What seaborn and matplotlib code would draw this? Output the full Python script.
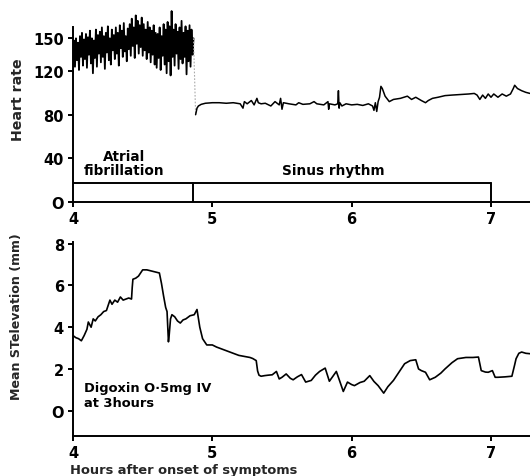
import numpy as np
import pandas as pd
import matplotlib
matplotlib.use("Agg")
import matplotlib.pyplot as plt
import seaborn as sns

# ---------------- data ----------------
af_start, af_end = 4.0, 4.865
af_rate = [118, 148, 124, 150, 130, 146, 121, 152, 133, 155, 125, 149, 131, 154,
           123, 151, 135, 157, 127, 150, 118, 148, 132, 158, 124, 153, 136, 156,
           128, 160, 133, 152, 122, 155, 137, 161, 130, 150, 126, 158, 139, 153,
           131, 160, 136, 155, 125, 162, 141, 157, 133, 164, 138, 152, 129, 159,
           140, 163, 134, 168, 143, 160, 132, 171, 145, 166, 136, 162, 142, 169,
           134, 163, 139, 158, 131, 165, 137, 160, 128, 157, 135, 162, 126, 155,
           123, 154, 132, 160, 121, 152, 134, 163, 126, 158, 118, 165, 129, 161,
           116, 175, 133, 158, 125, 163, 136, 156, 122, 160, 131, 166, 127, 155,
           133, 161, 117, 157, 129, 162, 124, 158, 135, 150]

sinus_hours = [4.88, 4.885, 4.89, 4.90, 4.92, 4.95, 5.00, 5.05, 5.10, 5.15, 5.20, 5.22,
               5.23, 5.25, 5.28, 5.30, 5.32, 5.33, 5.35, 5.38, 5.42, 5.45, 5.48, 5.49,
               5.50, 5.51, 5.55, 5.60, 5.62, 5.65, 5.70, 5.73, 5.75, 5.80, 5.83, 5.835,
               5.84, 5.88, 5.90, 5.905, 5.91, 5.915, 5.93, 5.96, 6.00, 6.04, 6.08, 6.12,
               6.15, 6.16, 6.17, 6.18, 6.19, 6.20, 6.21, 6.22, 6.24, 6.27, 6.30, 6.35,
               6.40, 6.43, 6.46, 6.50, 6.53, 6.55, 6.58, 6.62, 6.67, 6.72, 6.78, 6.84,
               6.88, 6.90, 6.92, 6.94, 6.96, 6.98, 7.00, 7.02, 7.05, 7.08, 7.11, 7.14,
               7.16, 7.17, 7.19, 7.22, 7.25, 7.28]
sinus_rate = [80, 83, 86, 88, 89.5, 90.5, 91, 91, 90.5, 91, 90, 86,
              92, 90, 93, 89, 95, 91, 90, 90.5, 88, 92, 89, 95,
              85, 91, 90, 89, 91, 89.5, 90, 92, 90, 89, 92, 85,
              90, 89, 90, 102, 86, 91, 88, 90, 89, 89.5, 88.5, 90,
              88, 84, 91, 83, 92, 96, 106, 104, 97, 92, 94, 95,
              97, 94, 96, 93, 91, 93, 95, 96, 97.5, 98, 98.5, 99,
              99.5, 98, 94, 98, 95, 99, 96, 99, 96, 99, 97, 99,
              104, 107, 104, 102, 100.5, 99.5]

st_hours = [4.00, 4.02, 4.04, 4.06, 4.08, 4.10, 4.11, 4.13, 4.145, 4.16, 4.18, 4.20,
            4.22, 4.24, 4.265, 4.28, 4.30, 4.32, 4.34, 4.36, 4.38, 4.40, 4.42, 4.425,
            4.43, 4.45, 4.47, 4.50, 4.53, 4.56, 4.59, 4.62, 4.635, 4.65, 4.665, 4.675,
            4.685, 4.69, 4.70, 4.71, 4.73, 4.75, 4.77, 4.79, 4.81, 4.84, 4.87, 4.89,
            4.91, 4.93, 4.96, 5.00, 5.03, 5.07, 5.11, 5.15, 5.19, 5.23, 5.27, 5.29,
            5.315, 5.325, 5.335, 5.35, 5.376, 5.40, 5.43, 5.46, 5.48, 5.50, 5.53, 5.56,
            5.58, 5.61, 5.64, 5.67, 5.71, 5.74, 5.77, 5.81, 5.84, 5.89, 5.91, 5.94,
            5.97, 6.00, 6.02, 6.06, 6.09, 6.13, 6.16, 6.19, 6.23, 6.26, 6.30, 6.34,
            6.38, 6.42, 6.46, 6.48, 6.50, 6.53, 6.56, 6.60, 6.64, 6.67, 6.72, 6.76,
            6.82, 6.87, 6.91, 6.93, 6.96, 6.98, 7.01, 7.03, 7.05, 7.10, 7.15, 7.17,
            7.18, 7.20, 7.22, 7.25, 7.28]
st_mm = [3.6, 3.5, 3.45, 3.35, 3.6, 3.9, 4.25, 4.0, 4.4, 4.3, 4.5, 4.6,
         4.75, 4.8, 5.3, 5.1, 5.3, 5.2, 5.45, 5.3, 5.35, 5.4, 5.35, 5.9,
         6.3, 6.35, 6.45, 6.75, 6.75, 6.7, 6.65, 6.6, 6.1, 5.5, 4.95, 4.75,
         3.3, 3.6, 4.4, 4.6, 4.5, 4.3, 4.2, 4.35, 4.4, 4.55, 4.6, 4.85,
         4.0, 3.45, 3.15, 3.15, 3.05, 2.95, 2.85, 2.75, 2.65, 2.6, 2.55, 2.5,
         2.4, 1.9, 1.7, 1.65, 1.68, 1.7, 1.72, 1.88, 1.52, 1.6, 1.76, 1.55,
         1.48, 1.62, 1.73, 1.37, 1.45, 1.7, 1.88, 2.04, 1.41, 1.88, 1.5, 0.92,
         1.37, 1.25, 1.2, 1.35, 1.41, 1.68, 1.4, 1.2, 0.84, 1.15, 1.45, 1.85,
         2.25, 2.4, 2.44, 2.0, 1.92, 1.84, 1.48, 1.6, 1.8, 2.0, 2.3, 2.49,
         2.55, 2.55, 2.57, 1.92, 1.85, 1.84, 1.92, 1.6, 1.6, 1.62, 1.65, 2.2,
         2.49, 2.75, 2.81, 2.75, 2.73]

rhythm_edges = [4.0, 4.86, 7.0]
rhythm_labels = ["Atrial\nfibrillation", "Sinus rhythm"]
rhythm_bar_height = 17.4
hr_ticks = [0, 40, 80, 120, 150]
st_ticks = [0, 2, 4, 6, 8]
hour_ticks = [4, 5, 6, 7]
digoxin_note = "Digoxin O·5mg IV\nat 3hours"

# ---------------- style ----------------
sns.set_style("ticks")
plt.rcParams['font.family'] = ['DejaVu Sans']
plt.rcParams['font.weight'] = 'bold'
plt.rcParams['axes.labelweight'] = 'bold'
plt.rcParams['axes.linewidth'] = 1.4
plt.rcParams['xtick.major.width'] = 1.4
plt.rcParams['ytick.major.width'] = 1.4

fig = plt.figure(figsize=(5.3, 4.77), dpi=100)
L, W = 73 / 530, 457 / 530
ax1 = fig.add_axes([L, 0.5744, W, 0.9816 - 0.5744])
ax2 = fig.add_axes([L, 0.0845, W, 0.4899 - 0.0845])

af_hours = np.linspace(af_start, af_end, len(af_rate))
af_df = pd.DataFrame({"hours": af_hours, "rate": af_rate})
sr_df = pd.DataFrame({"hours": sinus_hours, "rate": sinus_rate})
st_df = pd.DataFrame({"hours": st_hours, "st": st_mm})

# ---- top panel: heart rate ----
sns.lineplot(data=af_df, x="hours", y="rate", ax=ax1, color="black", lw=1.3,
             estimator=None, sort=False)
sns.lineplot(x=[af_hours[-1], sinus_hours[0]], y=[af_rate[-1], sinus_rate[0]], ax=ax1,
             color="#aaaaaa", lw=0.8, ls=(0, (1.5, 1.5)), estimator=None, sort=False)
sns.lineplot(data=sr_df, x="hours", y="rate", ax=ax1, color="black", lw=1.1,
             estimator=None, sort=False)

# rhythm bar
ax1.plot([rhythm_edges[0], rhythm_edges[-1]], [rhythm_bar_height] * 2, color="black", lw=1.4)
for e in rhythm_edges[1:]:
    ax1.plot([e, e], [0, rhythm_bar_height], color="black", lw=1.4)
for i, lab in enumerate(rhythm_labels):
    mid = (rhythm_edges[i] + rhythm_edges[i + 1]) / 2 - 0.065
    ax1.text(mid, 23, lab, ha="center", va="bottom", fontsize=9.8,
             linespacing=0.95, color="black")

ax1.set_xlim(4, 7.28)
ax1.set_ylim(0, 178)
ax1.set_yticks(hr_ticks)
ax1.set_yticklabels([str(t) if t else "O" for t in hr_ticks])
ax1.set_xticks(hour_ticks)
ax1.set_xlabel("")
ax1.set_ylabel("Heart rate", fontsize=10.2)
ax1.yaxis.set_label_coords(-0.105, 0.53)
ax1.spines["left"].set_bounds(0, 160)

# ---- bottom panel: ST elevation ----
sns.lineplot(data=st_df, x="hours", y="st", ax=ax2, color="black", lw=1.2,
             estimator=None, sort=False)
ax2.text(4.08, 1.4, digoxin_note, ha="left", va="top", fontsize=9.4,
         linespacing=1.15, color="black")
ax2.set_xlim(4, 7.28)
ax2.set_ylim(-1.2, 8.07)
ax2.set_yticks(st_ticks)
ax2.set_yticklabels([str(t) if t else "O" for t in st_ticks])
ax2.set_xticks(hour_ticks)
ax2.set_xlabel("Hours after onset of symptoms", fontsize=9.4, labelpad=0)
ax2.xaxis.set_label_coords(0.243, -0.14)
ax2.set_ylabel("Mean STelevation (mm)", fontsize=9.1)
ax2.yaxis.set_label_coords(-0.11, 0.62)

for ax in (ax1, ax2):
    sns.despine(ax=ax, top=True, right=True)
    ax.tick_params(axis="both", direction="out", length=3.5, pad=3,
                   labelsize=10.5, colors="black")
    for s in ("left", "bottom"):
        ax.spines[s].set_color("black")

fig.savefig("out.png", dpi=100, facecolor="white")
